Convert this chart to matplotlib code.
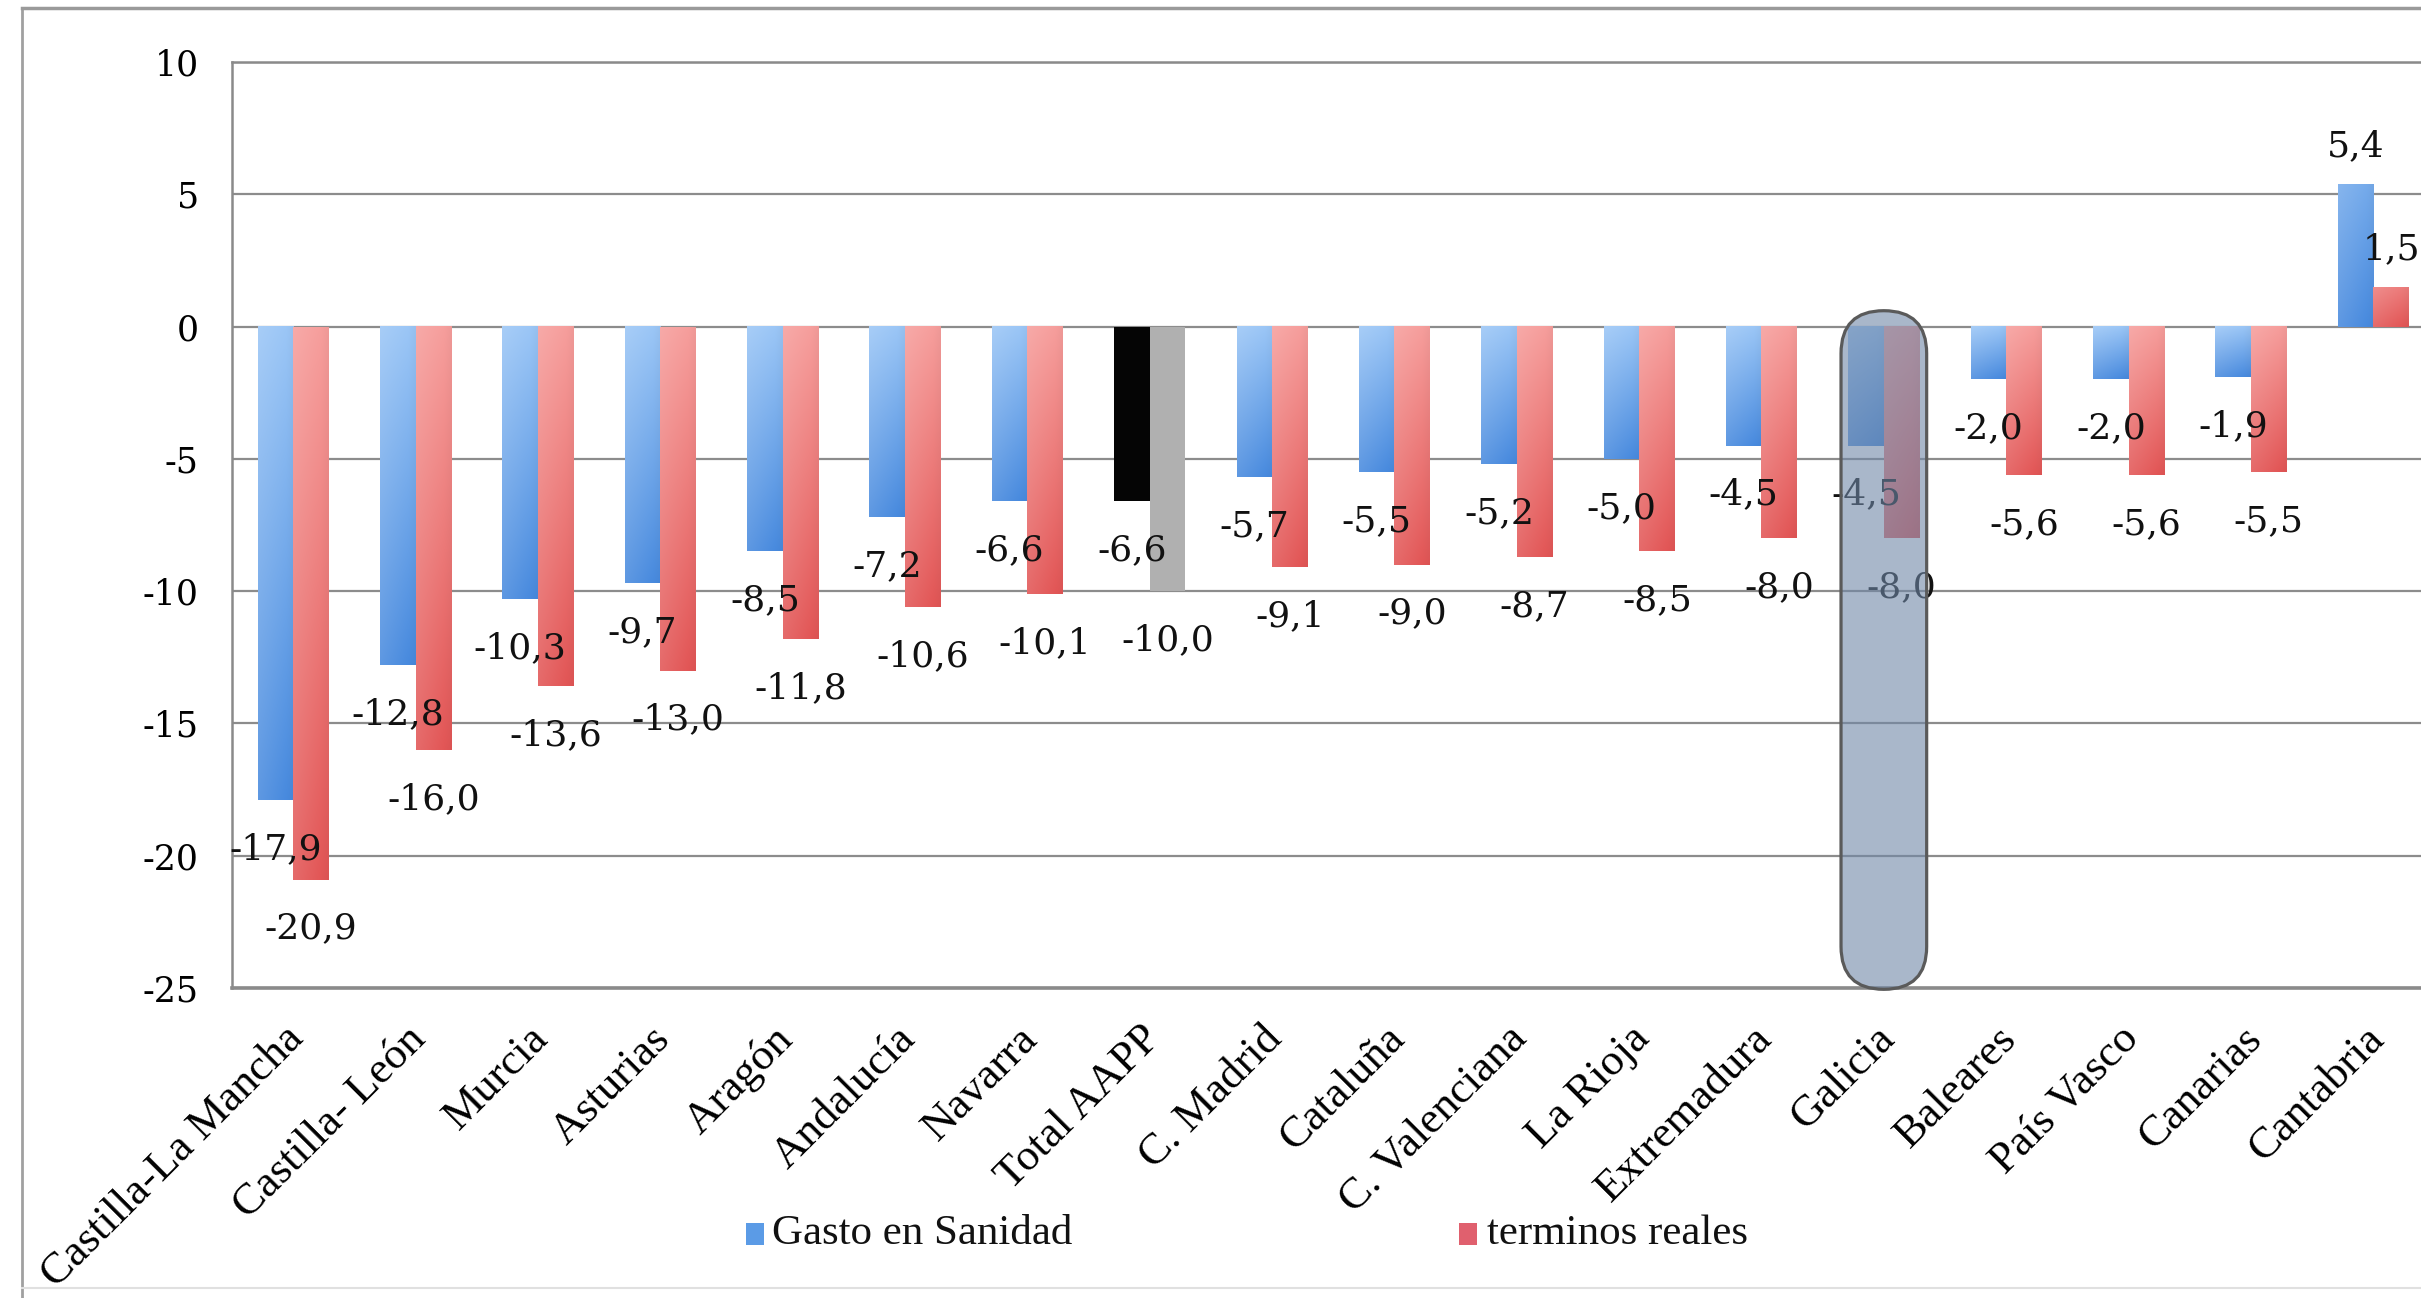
import numpy as np
import matplotlib
matplotlib.use("Agg")
import matplotlib.pyplot as plt
from matplotlib.patches import FancyBboxPatch, Rectangle
from matplotlib.lines import Line2D
from matplotlib.transforms import ScaledTranslation

# ---------------- data ----------------
categories = ["Castilla-La Mancha", "Castilla- León", "Murcia", "Asturias", "Aragón",
              "Andalucía", "Navarra", "Total AAPP", "C. Madrid", "Cataluña",
              "C. Valenciana", "La Rioja", "Extremadura", "Galicia", "Baleares",
              "País Vasco", "Canarias", "Cantabria"]
gasto = [-17.9, -12.8, -10.3, -9.7, -8.5, -7.2, -6.6, -6.6, -5.7, -5.5,
         -5.2, -5.0, -4.5, -4.5, -2.0, -2.0, -1.9, 5.4]
reales = [-20.9, -16.0, -13.6, -13.0, -11.8, -10.6, -10.1, -10.0, -9.1, -9.0,
          -8.7, -8.5, -8.0, -8.0, -5.6, -5.6, -5.5, 1.5]
series_names = ["Gasto en Sanidad", "terminos reales"]
yticks = [10, 5, 0, -5, -10, -15, -20, -25]
total_name = "Total AAPP"
highlight_name = "Galicia"

W, H = 2421, 1298
fig = plt.figure(figsize=(W / 100, H / 100), dpi=100)
fig.patch.set_facecolor("white")

ax_left, ax_right, ax_top, ax_bot = 232, 2421, 62, 988
ax = fig.add_axes([ax_left / W, 1 - ax_bot / H, (ax_right - ax_left) / W, (ax_bot - ax_top) / H])

x = np.arange(len(categories))
bw = 0.29
bars1 = ax.bar(x - bw / 2, gasto, bw, color="#6fa8ec", zorder=2, linewidth=0)
bars2 = ax.bar(x + bw / 2, reales, bw, color="#ec7a7a", zorder=2, linewidth=0)

ax.set_xlim(-0.5, 17.39)
ax.set_ylim(-25, 10)

# gradient fills
blue_light, blue_dark = np.array([155, 198, 246]) / 255, np.array([72, 138, 222]) / 255
red_light, red_dark = np.array([246, 158, 156]) / 255, np.array([226, 86, 86]) / 255


def grad_fill(patch, light, dark):
    x0 = patch.get_x()
    w = patch.get_width()
    y0 = patch.get_y()
    h = patch.get_height()
    n = 120
    if h >= 0:
        # positive bars: mild gradient, lighter at the top
        light, dark = light * 0.55 + dark * 0.45, dark
    t = np.linspace(0, 1, n)[:, None]  # 0 at top, 1 at bottom
    cols = light[None, None, :] * (1 - t[..., None]) + dark[None, None, :] * t[..., None]
    cols = np.repeat(cols, 20, axis=1)
    hx = np.linspace(0.12, -0.03, 20)[None, :, None]
    cols = np.clip(cols + (1 - cols) * np.clip(hx, 0, None) + cols * np.clip(hx, None, 0), 0, 1)
    ybot, ytop = min(y0, y0 + h), max(y0, y0 + h)
    # origin upper: row 0 at top
    ax.imshow(cols, extent=(x0, x0 + w, ybot, ytop), origin="upper", aspect="auto",
              zorder=2.1, interpolation="bilinear")


ti = categories.index(total_name)
for i, (p1, p2) in enumerate(zip(bars1, bars2)):
    if i == ti:
        p1.set_color("#050505")
        p2.set_color("#b0b0b0")
        continue
    grad_fill(p1, blue_light, blue_dark)
    grad_fill(p2, red_light, red_dark)

ax.set_xlim(-0.5, 17.39)
ax.set_ylim(-25, 10)

# value labels
def fmt(v):
    return f"{v:.1f}".replace(".", ",")

for bars, vals in ((bars1, gasto), (bars2, reales)):
    for p, v in zip(bars, vals):
        xc = p.get_x() + p.get_width() / 2
        off = -49 if v < 0 else 38
        ax.annotate(fmt(v), (xc, v), xytext=(0, off), textcoords="offset pixels",
                    ha="center", va="center", fontsize=26, family="DejaVu Serif",
                    color="#111111", zorder=4)

# highlight box
hi = categories.index(highlight_name)
aspect = (35 / (ax_bot - ax_top)) / (17.89 / (ax_right - ax_left))
box = FancyBboxPatch((hi - 0.35, -25.05), 0.70, 25.65,
                     boxstyle="round,pad=0,rounding_size=0.35", mutation_aspect=aspect,
                     facecolor=(112 / 255, 136 / 255, 168 / 255, 0.6), edgecolor="#5a5a5a",
                     linewidth=2.3, zorder=5, clip_on=False)
ax.add_patch(box)

# axes styling
ax.set_yticks(yticks)
ax.set_yticklabels([str(v) for v in yticks], fontsize=25, family="DejaVu Serif")
ax.tick_params(axis="y", length=0, pad=24)
ax.grid(axis="y", color="#8c8c8c", linewidth=1.6, zorder=1)
ax.set_axisbelow(True)
for s in ("left", "top"):
    ax.spines[s].set_color("#8a8a8a")
    ax.spines[s].set_linewidth(1.8)
ax.spines["bottom"].set_color("#8a8a8a")
ax.spines["bottom"].set_linewidth(2.6)
ax.spines["right"].set_visible(False)

ax.set_xticks(x)
ax.set_xticklabels(categories, rotation=45, ha="right", va="top", rotation_mode="anchor",
                   fontsize=32, family="Liberation Serif")
ax.tick_params(axis="x", length=0, pad=22)
for lab in ax.get_xticklabels():
    lab.set_transform(lab.get_transform() + ScaledTranslation(-0.10, 0, fig.dpi_scale_trans))

# legend (manual)
leg_y = 1 - 1234 / H
for (sx, tx, name, col) in ((746, 772, series_names[0], "#5b9be6"),
                            (1459, 1487, series_names[1], "#e0606e")):
    fig.add_artist(Rectangle((sx / W, leg_y - 11 / H), 18 / W, 22 / H, transform=fig.transFigure,
                             facecolor=col, edgecolor="none"))
    fig.text(tx / W, leg_y, name, fontsize=31, family="Liberation Serif", va="center", ha="left",
             color="#111111")

# outer frame
fig.add_artist(Line2D([22 / W, 22 / W], [0, 1 - 8 / H], transform=fig.transFigure,
                      color="#a0a0a0", linewidth=2))
fig.add_artist(Line2D([22 / W, 1], [1 - 8 / H, 1 - 8 / H], transform=fig.transFigure,
                      color="#9a9a9a", linewidth=2.5))
fig.add_artist(Line2D([22 / W, 1], [1 - 1288 / H, 1 - 1288 / H], transform=fig.transFigure,
                      color="#e0e0e0", linewidth=1.5))

fig.savefig("out.png", dpi=100, facecolor="white")
